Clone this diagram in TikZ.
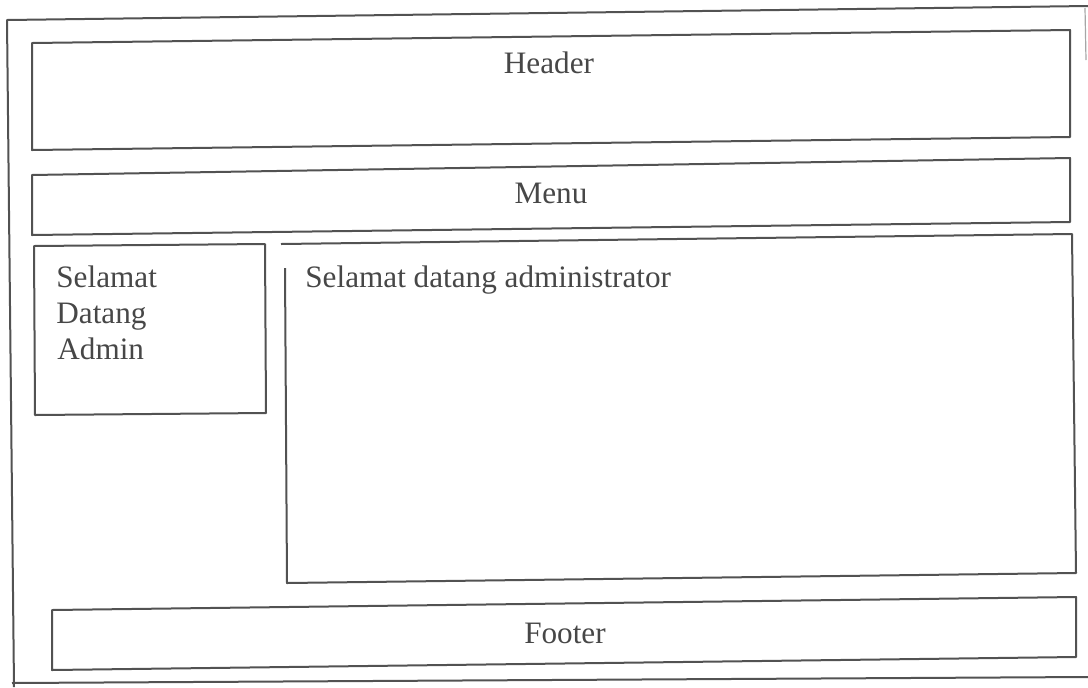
\documentclass[tikz,border=0pt]{standalone}
\usepackage{fontspec}
\setmainfont{Liberation Serif}
\begin{document}
\begin{tikzpicture}[x=0.5pt,y=-0.5pt,
  pen/.style={draw=black!68,line width=1pt,line join=round},
  faint/.style={draw=black!35,line width=0.6pt},
  label/.style={text=black!72,inner sep=0pt,font=\fontsize{15.6}{18}\selectfont}]
\useasboundingbox (0,0) rectangle (1088,687);
% outer page frame
\coordinate (o1) at (7,20);
\coordinate (o2) at (1088,6);
\coordinate (o3) at (14,687);
\coordinate (o4) at (12,683);
\coordinate (o5) at (1088,677);
\draw[pen] (o2) -- (o1) -- (o3);
\draw[pen] (o4) -- (o5);
\draw[faint] (1085,8) -- (1086,60);
% header block
\draw[pen] (32,43) -- (1070,30) -- (1070,137) -- (32,150) -- cycle;
\node[label,anchor=base] (header) at (549,73) {Header};
% menu bar
\draw[pen] (32,175) -- (1070,158) -- (1070,222) -- (32,235) -- cycle;
\node[label,anchor=base] (menu) at (551,203) {Menu};
% left sidebar
\draw[pen] (34,246) -- (265,244) -- (266,413) -- (35,415) -- cycle;
\node[label,anchor=base west] (s1) at (56,287) {Selamat};
\node[label,anchor=base west] (s2) at (56,323) {Datang};
\node[label,anchor=base west] (s3) at (57,359) {Admin};
% main content area
\draw[pen] (285,268) -- (287,583) -- (1076,573) -- (1072,234) -- (281,244);
\node[label,anchor=base west] (content) at (305,287) {Selamat datang administrator};
% footer block
\draw[pen] (52,610) -- (1076,597) -- (1076,657) -- (52,670) -- cycle;
\node[label,anchor=base] (footer) at (565,643) {Footer};
\end{tikzpicture}
\end{document}
